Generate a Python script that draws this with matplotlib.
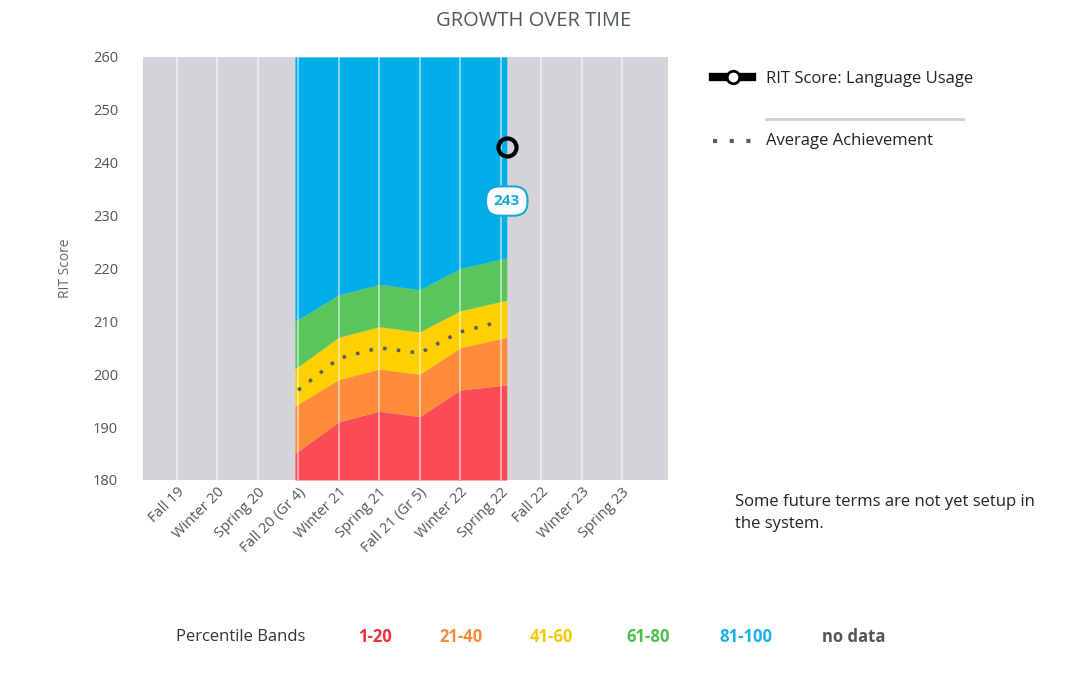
import matplotlib
matplotlib.use("Agg")
import matplotlib.pyplot as plt
from matplotlib.lines import Line2D
import numpy as np

terms = ["Fall 19","Winter 20","Spring 20","Fall 20 (Gr 4)","Winter 21","Spring 21",
         "Fall 21 (Gr 5)","Winter 22","Spring 22","Fall 22","Winter 23","Spring 23"]
band_idx = [3,4,5,6,7,8]
p20 = [185,191,193,192,197,198]
p40 = [194,199,201,200,205,207]
p60 = [201,207,209,208,212,214]
p80 = [210,215,217,216,220,222]
avg = [197,203,205,204,208,210]
score_idx = 8
score = 243

plt.rcParams['font.family'] = ['Open Sans','DejaVu Sans']
fig = plt.figure(figsize=(10.67,6.73), dpi=100)
ax = fig.add_axes([143/1067, 1-480/673, 525/1067, 423/673])
ax.set_facecolor('#d4d4d8')
x = np.array(band_idx, float)
xs = x.copy(); xs[0] -= 0.08; xs[-1] += 0.15
cols = ['#fb4c55','#fd8b3a','#fed000','#5ac55d','#00aeea']
lo = [180]*6
for top, c in zip([p20,p40,p60,p80,[260]*6], cols):
    ax.fill_between(xs, lo, top, color=c, lw=0)
    lo = top
for i in range(12):
    ax.axvline(i, color='white', lw=1.2, alpha=0.6)
ax.plot(x, avg, ls=(0,(1,3)), color='#555b66', lw=2.5)
ax.plot(score_idx+0.15, score, 'o', ms=13, mfc='none', mec='black', mew=3)
ax.annotate(str(score), (score_idx+0.15, score), xytext=(0,-39), textcoords='offset points',
            ha='center', va='center', color='#19a7da', fontsize=11, fontweight='bold',
            bbox=dict(boxstyle='round,pad=0.5,rounding_size=0.9', fc='white', ec='#19a7da', lw=1.5))
ax.set_xlim(-0.83, 12.13)
ax.set_ylim(180, 260)
ax.set_yticks(range(180,261,10))
ax.set_xticks(range(12))
ax.set_xticklabels(terms, rotation=45, ha='right', rotation_mode='anchor', color='#555', fontsize=10.5)
ax.tick_params(length=0, labelsize=10.5, colors='#555')
ax.tick_params(axis='y', pad=18)
for s in ax.spines.values(): s.set_visible(False)
ax.set_ylabel('RIT Score', color='#666', fontsize=10, labelpad=14)

fig.text(0.5, 1-21/673, 'GROWTH OVER TIME', ha='center', va='center', fontsize=14.5, color='#4f5a52')
# legend
fig.add_artist(Line2D([713/1067,752/1067],[1-77/673]*2, color='black', lw=6))
fig.add_artist(Line2D([733/1067],[1-77/673], marker='o', ms=9, mfc='white', mec='black', mew=2))
fig.text(766/1067, 1-79/673, 'RIT Score: Language Usage', va='center', fontsize=12, color='#222')
fig.add_artist(Line2D([766/1067,963/1067],[1-119/673]*2, color='#c9d3d3', lw=2))
fig.add_artist(Line2D([713/1067,752/1067],[1-141/673]*2, color='#555b66', lw=3, ls=(0,(1,3))))
fig.text(766/1067, 1-141/673, 'Average Achievement', va='center', fontsize=12, color='#222')
fig.text(735/1067, 1-513/673, 'Some future terms are not yet setup in\nthe system.', va='center',
         fontsize=12, color='#222', linespacing=1.5)
# bottom legend
y = 1-637/673
fig.text(176/1067, y, 'Percentile Bands', va='center', fontsize=12, color='#333')
for xp, t, c in [(358,'1-20','#f0303c'),(439,'21-40','#fd8b3a'),(530,'41-60','#f5c800'),
                 (626,'61-80','#4cbf4f'),(719,'81-100','#19b2e6'),(822,'no data','#555')]:
    fig.text(xp/1067, y, t, va='center', fontsize=12, color=c, fontweight='bold')
fig.savefig('out.png', dpi=100)
